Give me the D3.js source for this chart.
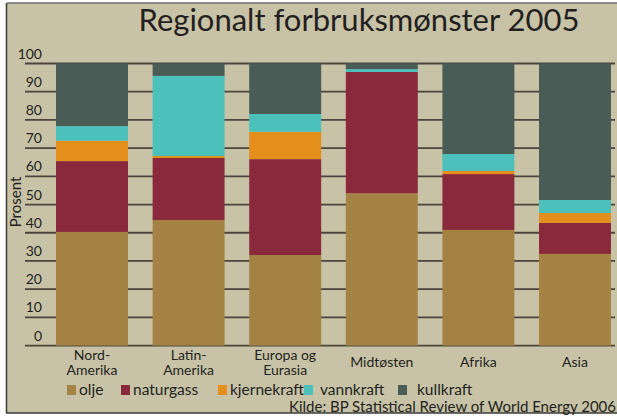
<!DOCTYPE html>
<html>
<head>
<meta charset="utf-8">
<script src="https://cdn.jsdelivr.net/npm/d3@7"></script>
<style>
  html, body { margin: 0; padding: 0; background: #fff; }
  svg { display: block; font-family: Lato, "Noto Sans", sans-serif; }
</style>
</head>
<body>
<div id="chart"></div>
<script>
// --- data (percent of regional energy consumption, 2005) ---
const regions = ['Nord-Amerika', 'Latin-Amerika', 'Europa og Eurasia', 'Midtøsten', 'Afrika', 'Asia'];
const regionLabels = [['Nord-', 'Amerika'], ['Latin-', 'Amerika'], ['Europa og', 'Eurasia'], ['Midtøsten'], ['Afrika'], ['Asia']];
const olje        = [40.3, 44.5, 32.1, 54.0, 41.0, 32.5];
const naturgass   = [25.1, 22.0, 34.0, 43.0, 19.8, 11.0];
const kjernekraft = [ 7.2,  0.7,  9.7,  0.0,  1.1,  3.5];
const vannkraft   = [ 5.2, 28.4,  6.3,  1.0,  6.0,  4.6];
const kullkraft   = [22.2,  4.4, 17.9,  2.0, 32.1, 48.4];
const seriesNames = ['olje', 'naturgass', 'kjernekraft', 'vannkraft', 'kullkraft'];
const yTicks = [0, 10, 20, 30, 40, 50, 60, 70, 80, 90, 100];

const colors = {
  olje: '#a48244',
  naturgass: '#8a283c',
  kjernekraft: '#e48f1c',
  vannkraft: '#4cc0bb',
  kullkraft: '#4a5c56'
};

const W = 617, H = 416;
const svg = d3.select('#chart').append('svg').attr('width', W).attr('height', H);

// background panel + frame
svg.append('rect').attr('x', 7).attr('y', 3).attr('width', W - 7).attr('height', 410).attr('fill', '#c8c3a6');
svg.append('line').attr('x1', 7).attr('x2', W).attr('y1', 3).attr('y2', 3)
  .attr('stroke', '#6b6b6b').attr('stroke-width', 1.5);
svg.append('line').attr('x1', 6.5).attr('x2', 6.5).attr('y1', 3).attr('y2', 413)
  .attr('stroke', '#3a3a3a').attr('stroke-width', 1.5);
svg.append('line').attr('x1', 6).attr('x2', W).attr('y1', 413).attr('y2', 413)
  .attr('stroke', '#3a3a3a').attr('stroke-width', 1.5);

// title
svg.append('text')
  .attr('x', 359).attr('y', 31)
  .attr('text-anchor', 'middle')
  .attr('font-size', 31)
  .attr('fill', '#231f20')
  .text('Regionalt forbruksmønster 2005');

const x = d3.scaleBand().domain(regions).range([43.7, 623.3])
  .paddingInner(0.255).paddingOuter(0.1275);
const y = d3.scaleLinear().domain([0, 100]).range([345.6, 63.5]);

// gridlines
svg.append('g').selectAll('line').data(yTicks).join('line')
  .attr('x1', 25).attr('x2', 615)
  .attr('y1', d => y(d)).attr('y2', d => y(d))
  .attr('stroke', '#4a443c').attr('stroke-width', 1.8);

// tick labels (sit above their gridline)
svg.append('g').selectAll('text').data(yTicks).join('text')
  .attr('x', 42).attr('y', d => y(d) - 5)
  .attr('text-anchor', 'end')
  .attr('font-size', 14)
  .attr('fill', '#231f20')
  .text(d => d);

svg.append('text')
  .attr('transform', 'translate(21,202) rotate(-90)')
  .attr('text-anchor', 'middle')
  .attr('font-size', 15)
  .attr('fill', '#231f20')
  .text('Prosent');

// stacked bars
const table = regions.map((r, i) => ({
  region: r,
  olje: olje[i], naturgass: naturgass[i], kjernekraft: kjernekraft[i],
  vannkraft: vannkraft[i], kullkraft: kullkraft[i]
}));
const stacked = d3.stack().keys(seriesNames)(table);

svg.append('g').selectAll('g').data(stacked).join('g')
  .attr('fill', s => colors[s.key])
  .selectAll('rect').data(s => s).join('rect')
  .attr('x', d => x(d.data.region))
  .attr('width', x.bandwidth())
  .attr('y', d => y(d[1]))
  .attr('height', d => Math.max(0, y(d[0]) - y(d[1])));

// category labels
regionLabels.forEach((lines, i) => {
  const cx = x(regions[i]) + x.bandwidth() / 2;
  const t = svg.append('text')
    .attr('text-anchor', 'middle')
    .attr('font-size', 14)
    .attr('fill', '#231f20');
  if (lines.length === 1) {
    t.append('tspan').attr('x', cx).attr('y', 367).text(lines[0]);
  } else {
    lines.forEach((l, j) => t.append('tspan').attr('x', cx).attr('y', 360 + j * 15).text(l));
  }
});

// legend
const legendX = [67, 121, 218, 304, 398];
const legendTextX = [79, 133, 230, 320, 417];
seriesNames.forEach((name, i) => {
  svg.append('rect')
    .attr('x', legendX[i]).attr('y', 385)
    .attr('width', 9).attr('height', 10)
    .attr('fill', colors[name]);
  svg.append('text')
    .attr('x', legendTextX[i]).attr('y', 395)
    .attr('font-size', 15.5)
    .attr('fill', '#231f20')
    .text(name);
});

// source
svg.append('text')
  .attr('x', 616).attr('y', 412)
  .attr('text-anchor', 'end')
  .attr('font-size', 15)
  .attr('fill', '#231f20')
  .text('Kilde: BP Statistical Review of World Energy 2006');
</script>
</body>
</html>
